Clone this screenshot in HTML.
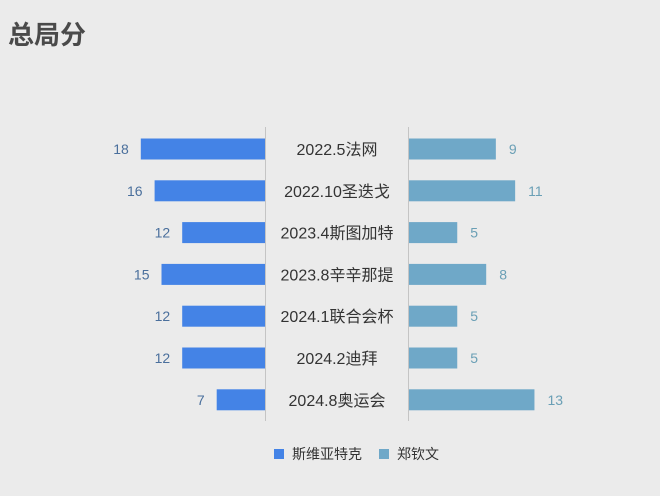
<!DOCTYPE html>
<html><head><meta charset="utf-8"><style>
html,body{margin:0;padding:0;background:#ebebeb;}
svg{display:block;font-family:"Liberation Sans","Noto Sans CJK SC",sans-serif;}
</style></head><body>
<svg id="c" width="660" height="496" viewBox="0 0 660 496">
<rect width="660" height="496" fill="#ebebeb"/>
<text x="8" y="44" font-size="26" font-weight="bold" fill="#4a4a4a" font-family="'Noto Sans CJK SC',sans-serif">总局分</text>
<line x1="265.5" y1="127" x2="265.5" y2="421" stroke="#c4c4c4" stroke-width="1"/>
<line x1="408.5" y1="127" x2="408.5" y2="421" stroke="#c4c4c4" stroke-width="1"/>
<g id="bars"></g>
<rect x="274" y="449" width="10" height="10" fill="#4483e6"/>
<text x="292" y="459" font-size="14" fill="#333">斯维亚特克</text>
<rect x="379" y="449" width="10" height="10" fill="#6fa8c8"/>
<text x="397" y="459" font-size="14" fill="#333">郑钦文</text>
</svg>
<script>
const categories=["2022.5法网","2022.10圣迭戈","2023.4斯图加特","2023.8辛辛那提","2024.1联合会杯","2024.2迪拜","2024.8奥运会"];
const swiatek=[18,16,12,15,12,12,7];
const zheng=[9,11,5,8,5,5,13];
const NS="http://www.w3.org/2000/svg";
const g=document.getElementById('bars');
const leftX=265, rightX=409, leftScale=6.9, rightScale=9.65;
const y0=149, step=41.8, bh=21;
function yPos(i){return y0+i*step;}
function mk(tag,attrs){const e=document.createElementNS(NS,tag);for(const k in attrs)e.setAttribute(k,attrs[k]);g.appendChild(e);return e;}
categories.forEach((c,i)=>{
  const y=yPos(i);
  const lw=swiatek[i]*leftScale, rw=zheng[i]*rightScale;
  let b=mk('rect',{x:leftX-lw,y:y-bh/2,width:lw,height:bh,fill:'#4483e6'});
  
  
  let r=mk('rect',{x:rightX,y:y-bh/2,width:rw,height:bh,fill:'#6fa8c8'});
  
  
  let t=mk('text',{x:leftX-lw-12,y:y+5,'font-size':14,fill:'#4a6f9c','text-anchor':'end'});
  t.textContent=swiatek[i];
  
  
  let t2=mk('text',{x:rightX+rw+13,y:y+5,'font-size':14,fill:'#6a9fb5','text-anchor':'start'});
  t2.textContent=zheng[i];
  
  
  let cl=mk('text',{x:337,y:y+6,'font-size':16,fill:'#333','text-anchor':'middle'});
  cl.textContent=c;
  
  
});
</script>
</body></html>
